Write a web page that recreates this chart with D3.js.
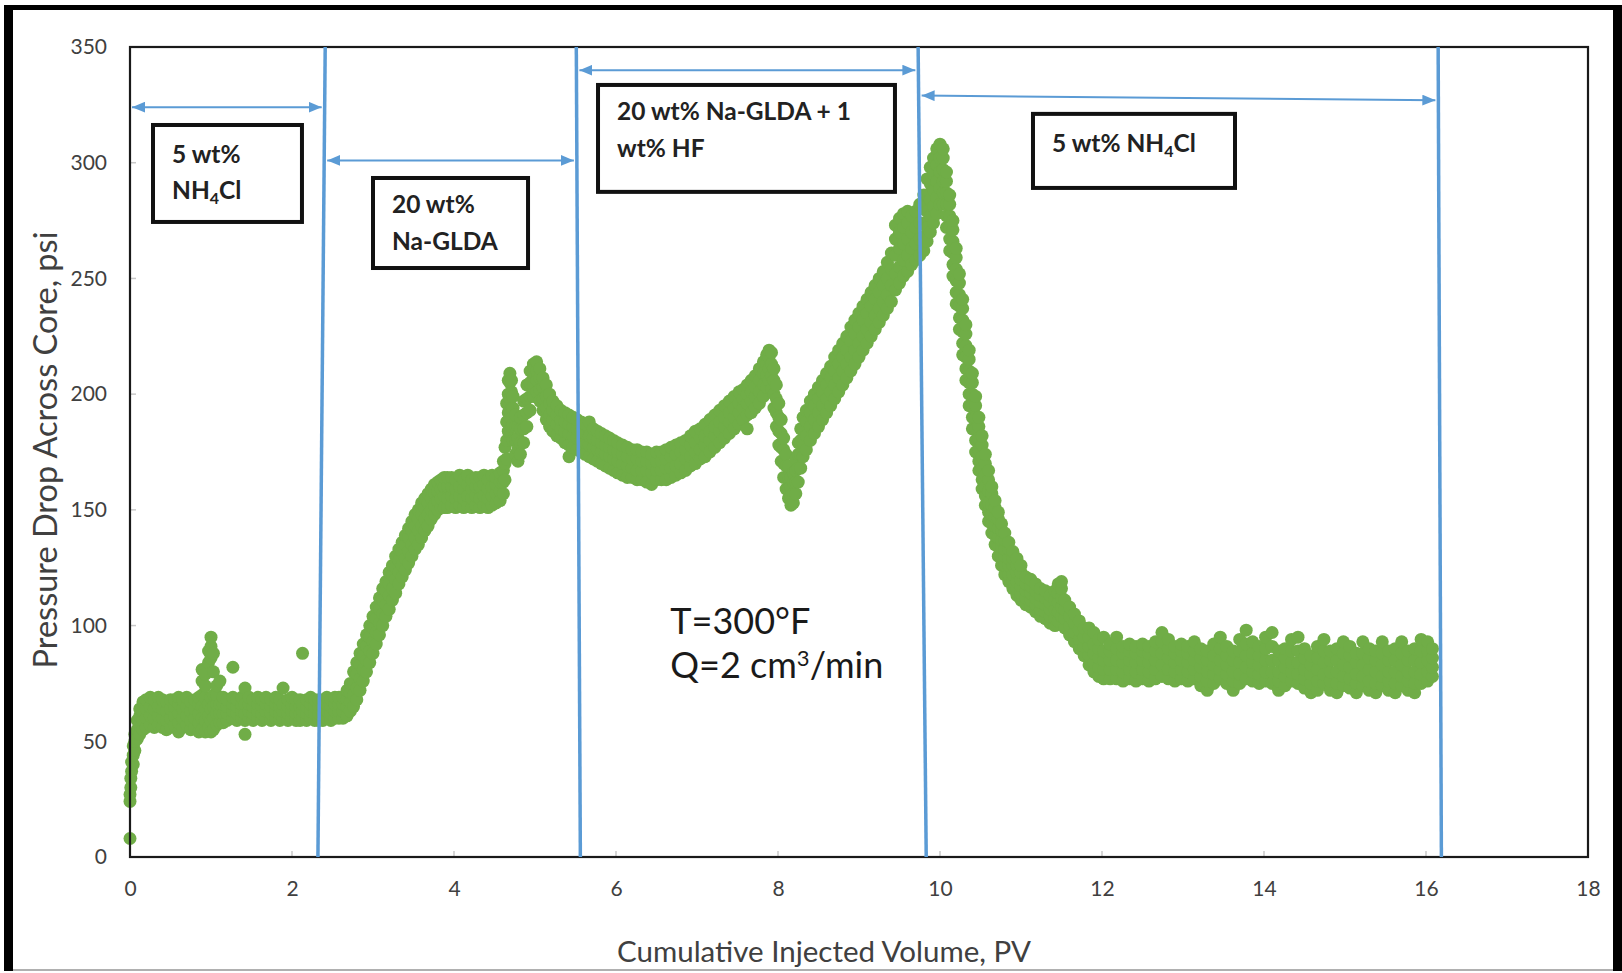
<!DOCTYPE html>
<html>
<head>
<meta charset="utf-8">
<script src="https://cdn.jsdelivr.net/npm/d3@7"></script>
<style>
  html, body { margin: 0; padding: 0; background: #fff; }
  svg { display: block; }
  text { font-family: Lato, "Open Sans", sans-serif; }
</style>
</head>
<body>
<svg id="chart" width="1622" height="973"></svg>
<script>
// ---- Axis ticks ----
const xTicks = [0, 2, 4, 6, 8, 10, 12, 14, 16, 18];
const yTicks = [0, 50, 100, 150, 200, 250, 300, 350];

// ---- Pressure drop readings, one row per injected volume: [PV, psi, psi, ...] ----
const stage1NH4Cl = [
  [0.00, 8, 24, 27], [0.01, 30, 34], [0.02, 37, 41], [0.04, 40, 44, 48], [0.06, 46, 50, 53],
  [0.09, 51, 55, 59], [0.12, 53, 57, 61, 64], [0.16, 55, 59, 63, 67], [0.20, 56, 60, 64, 68],
  [0.25, 57, 61, 65, 69], [0.30, 56, 60, 64, 68], [0.35, 57, 61, 65, 69], [0.40, 56, 60, 64, 68],
  [0.45, 55, 59, 63, 67], [0.50, 56, 60, 64, 68], [0.55, 57, 61, 65, 68], [0.60, 54, 58, 62, 66, 69],
  [0.65, 56, 60, 64, 68], [0.70, 57, 61, 65, 69], [0.75, 55, 59, 63, 67], [0.80, 56, 60, 64, 68],
  [0.85, 54, 58, 62, 66, 69], [0.89, 55, 60, 65, 70, 76, 81], [0.93, 54, 59, 64, 69, 74, 79],
  [0.97, 56, 61, 66, 84, 89], [1.00, 54, 59, 64, 69, 86, 91, 95], [1.03, 55, 60, 65, 70, 80, 88],
  [1.07, 57, 62, 66, 70, 74], [1.11, 58, 62, 66, 76], [1.15, 58, 62, 66, 69], [1.20, 59, 62, 65, 68],
  [1.27, 60, 63, 66, 69, 82], [1.32, 59, 62, 65, 68], [1.38, 60, 63, 66, 69], [1.42, 53, 59, 62, 66, 73],
  [1.47, 60, 63, 66, 69], [1.52, 59, 62, 65, 68], [1.58, 60, 63, 66, 69], [1.63, 59, 62, 65, 68],
  [1.68, 60, 63, 66, 69], [1.74, 59, 62, 65, 68], [1.80, 60, 63, 66, 69], [1.85, 59, 62, 65, 68],
  [1.89, 60, 63, 66, 73], [1.95, 59, 62, 65, 68], [2.00, 60, 63, 66, 69], [2.05, 59, 62, 65, 68],
  [2.10, 59, 62, 65, 68], [2.13, 60, 63, 66, 88], [2.18, 59, 62, 65, 68], [2.23, 60, 63, 66, 69],
  [2.28, 59, 62, 65, 68], [2.33, 59, 62, 65, 68]
];

const stage2GLDA = [
  [2.38, 59, 62, 65, 68], [2.43, 60, 63, 66, 69], [2.48, 59, 62, 65, 68], [2.53, 60, 63, 66, 69],
  [2.58, 60, 63, 66, 69], [2.63, 60, 63, 66, 69], [2.68, 61, 65, 68, 72], [2.72, 63, 67, 71, 75],
  [2.76, 65, 70, 75, 80], [2.80, 68, 73, 79, 84], [2.84, 72, 77, 83, 88], [2.88, 76, 81, 87, 92],
  [2.92, 80, 85, 91, 96], [2.96, 84, 89, 95, 100], [3.00, 88, 93, 99, 104], [3.04, 92, 97, 103, 108],
  [3.08, 96, 101, 107, 112], [3.12, 100, 105, 111, 116], [3.16, 104, 109, 115, 119], [3.20, 107, 113, 118, 123],
  [3.24, 111, 116, 122, 126], [3.28, 114, 120, 125, 130], [3.32, 118, 123, 128, 133], [3.36, 121, 126, 132, 136],
  [3.40, 124, 129, 135, 139], [3.44, 127, 132, 138, 142], [3.48, 130, 135, 141, 145], [3.52, 133, 138, 143, 148],
  [3.56, 135, 141, 146, 150], [3.60, 138, 143, 148, 153], [3.64, 141, 146, 151, 155], [3.68, 143, 148, 153, 157],
  [3.72, 146, 150, 155, 159], [3.76, 148, 152, 157, 161], [3.80, 150, 154, 158, 162], [3.84, 151, 155, 159, 163],
  [3.88, 151, 156, 160, 164], [3.92, 151, 155, 160, 164], [3.97, 152, 156, 160, 164], [4.02, 151, 155, 159, 163],
  [4.07, 152, 156, 160, 165], [4.12, 151, 155, 159, 163], [4.17, 152, 156, 161, 165], [4.22, 151, 155, 159, 163],
  [4.27, 152, 156, 160, 164], [4.32, 151, 155, 160, 164], [4.37, 152, 156, 161, 165], [4.42, 151, 155, 159, 163],
  [4.47, 152, 156, 160, 165], [4.52, 153, 157, 161, 164], [4.57, 154, 158, 162, 166], [4.61, 157, 162, 167, 171],
  [4.63, 163, 170, 177], [4.65, 172, 180, 188, 196], [4.67, 184, 192, 200, 206], [4.69, 190, 198, 205, 209],
  [4.71, 186, 194, 201, 206], [4.73, 180, 187, 194, 199], [4.76, 174, 180, 186, 191], [4.79, 171, 176, 181, 186],
  [4.82, 174, 179, 185, 190], [4.86, 179, 185, 191, 197], [4.90, 186, 192, 198, 204], [4.94, 193, 199, 205, 210],
  [4.98, 199, 204, 209, 213], [5.02, 201, 206, 210, 214], [5.06, 197, 202, 207, 211], [5.10, 193, 198, 203, 207],
  [5.14, 189, 194, 199, 204], [5.18, 186, 191, 196, 200], [5.22, 184, 189, 193, 197], [5.27, 182, 187, 191, 195],
  [5.32, 181, 185, 189, 193], [5.37, 179, 184, 188, 192], [5.42, 173, 178, 183, 187, 191], [5.47, 177, 182, 186, 190],
  [5.52, 176, 181, 185, 189]
];

const stage3GLDAHF = [
  [5.57, 175, 180, 184, 188], [5.62, 174, 179, 183, 187], [5.67, 173, 178, 182, 188], [5.72, 172, 177, 181, 185],
  [5.77, 171, 176, 180, 184], [5.82, 170, 175, 179, 183], [5.87, 169, 174, 178, 182], [5.92, 168, 173, 177, 181],
  [5.97, 167, 172, 176, 180], [6.02, 166, 171, 175, 179], [6.08, 165, 170, 174, 178], [6.14, 164, 169, 173, 177],
  [6.20, 164, 168, 172, 176], [6.26, 163, 167, 172, 176], [6.32, 163, 167, 171, 175], [6.38, 162, 167, 171, 175],
  [6.44, 161, 166, 170, 174], [6.50, 163, 167, 171, 175], [6.56, 163, 167, 171, 175], [6.62, 163, 168, 172, 176],
  [6.68, 164, 168, 173, 177], [6.74, 165, 169, 174, 178], [6.80, 166, 170, 175, 179], [6.86, 167, 172, 176, 180],
  [6.92, 169, 173, 178, 182], [6.98, 170, 175, 179, 184], [7.04, 172, 176, 181, 185], [7.10, 173, 178, 182, 187],
  [7.16, 175, 180, 184, 189], [7.22, 177, 182, 186, 191], [7.28, 179, 184, 188, 193], [7.34, 181, 186, 190, 195],
  [7.40, 183, 188, 192, 197], [7.46, 185, 190, 194, 199], [7.52, 187, 192, 196, 201], [7.57, 189, 194, 198, 202],
  [7.62, 185, 191, 196, 200, 204], [7.67, 192, 197, 201, 206], [7.72, 194, 199, 203, 208], [7.77, 196, 201, 206, 211],
  [7.82, 199, 204, 209, 214], [7.86, 203, 208, 213, 217], [7.89, 206, 211, 216, 219], [7.92, 202, 208, 213, 218],
  [7.95, 194, 200, 206, 211], [7.98, 186, 192, 198, 204], [8.01, 178, 184, 190, 196], [8.04, 171, 177, 183, 189],
  [8.07, 164, 170, 176, 181], [8.10, 159, 164, 169, 174], [8.13, 155, 159, 164, 169], [8.16, 152, 156, 160, 164],
  [8.19, 153, 157, 162, 166], [8.22, 157, 162, 167, 172], [8.25, 162, 168, 174, 179], [8.28, 168, 174, 180, 185],
  [8.31, 173, 179, 185, 190], [8.35, 176, 182, 188, 193], [8.40, 180, 186, 192, 197], [8.45, 183, 189, 195, 200],
  [8.50, 186, 192, 198, 203], [8.55, 189, 195, 201, 206], [8.60, 192, 198, 204, 209], [8.65, 195, 201, 207, 212],
  [8.70, 198, 204, 210, 216], [8.75, 201, 207, 213, 219], [8.80, 204, 210, 216, 222], [8.85, 207, 213, 219, 225],
  [8.90, 210, 216, 223, 229], [8.95, 213, 219, 226, 232], [9.00, 216, 222, 229, 235], [9.05, 219, 225, 232, 238],
  [9.10, 222, 228, 235, 241], [9.15, 225, 231, 238, 244], [9.20, 228, 234, 241, 247], [9.25, 231, 237, 244, 250],
  [9.30, 234, 240, 247, 253], [9.35, 237, 243, 250, 257], [9.40, 240, 247, 254, 261], [9.45, 245, 252, 260, 267, 273],
  [9.50, 248, 255, 263, 270, 276], [9.55, 251, 258, 265, 272, 278], [9.60, 253, 260, 267, 274, 279],
  [9.65, 256, 263, 270, 277], [9.70, 258, 265, 272, 279], [9.75, 260, 267, 274, 282]
];

const stage4NH4Cl = [
  [9.80, 262, 268, 274, 280, 286], [9.84, 266, 272, 279, 286, 293], [9.88, 270, 277, 284, 291, 298],
  [9.92, 274, 281, 288, 295, 302], [9.96, 278, 285, 292, 299, 306], [10.00, 282, 289, 296, 302, 308],
  [10.04, 282, 287, 292, 297, 302, 306], [10.08, 272, 277, 282, 287, 292, 296], [10.12, 262, 267, 272, 277, 282, 286],
  [10.16, 251, 256, 261, 266, 271, 275], [10.20, 239, 244, 249, 254, 259, 263], [10.24, 228, 233, 238, 243, 248, 252],
  [10.28, 217, 222, 227, 232, 237, 241], [10.32, 206, 211, 216, 221, 226, 230], [10.36, 195, 200, 205, 210, 215, 219],
  [10.40, 185, 190, 195, 200, 205, 209], [10.44, 175, 180, 185, 190, 195, 199], [10.48, 167, 171, 176, 181, 186, 190],
  [10.52, 159, 163, 168, 173, 178, 182], [10.56, 152, 156, 160, 165, 170, 174], [10.60, 145, 149, 153, 158, 163, 167],
  [10.64, 140, 144, 148, 152, 157, 160], [10.68, 135, 139, 143, 147, 151, 154], [10.72, 130, 134, 138, 142, 146, 149],
  [10.76, 126, 130, 134, 137, 141, 144], [10.80, 122, 126, 130, 133, 137, 140], [10.85, 119, 122, 126, 129, 133, 136],
  [10.90, 116, 119, 122, 126, 129, 132], [10.95, 113, 116, 119, 123, 126, 129], [11.00, 111, 114, 117, 120, 123, 126],
  [11.06, 109, 112, 115, 118, 121], [11.12, 108, 111, 114, 117, 120], [11.18, 106, 109, 112, 115, 118],
  [11.24, 104, 107, 110, 113, 116], [11.30, 103, 106, 109, 112, 115], [11.36, 101, 104, 107, 110, 113],
  [11.42, 100, 103, 107, 111, 115], [11.46, 102, 106, 110, 114, 118], [11.50, 104, 108, 112, 116, 119],
  [11.54, 99, 103, 107, 111], [11.60, 96, 100, 104, 108], [11.66, 93, 97, 101, 105], [11.72, 90, 94, 98, 102],
  [11.78, 87, 91, 95, 99], [11.84, 83, 87, 91, 95, 99], [11.90, 80, 84, 88, 92, 97], [11.96, 78, 82, 86, 90, 94],
  [12.02, 77, 81, 85, 89, 95], [12.10, 77, 81, 85, 89, 92], [12.18, 77, 81, 85, 90, 95], [12.26, 76, 80, 84, 88, 91],
  [12.34, 77, 81, 85, 89, 92], [12.42, 76, 80, 84, 88, 91], [12.50, 77, 81, 85, 89, 92], [12.58, 76, 80, 84, 88, 91],
  [12.66, 77, 81, 85, 89, 93], [12.74, 78, 83, 88, 93, 97], [12.82, 77, 81, 86, 90, 94], [12.90, 76, 80, 84, 88, 91],
  [12.98, 77, 81, 85, 89, 92], [13.06, 76, 80, 84, 88, 91], [13.14, 77, 81, 85, 89, 93], [13.22, 74, 78, 82, 86, 90],
  [13.30, 72, 76, 80, 85, 89], [13.38, 75, 79, 83, 87, 92], [13.46, 77, 81, 85, 90, 95], [13.54, 75, 79, 83, 87, 91],
  [13.62, 72, 76, 80, 85, 89], [13.70, 75, 79, 84, 89, 94], [13.78, 77, 82, 87, 92, 98], [13.86, 76, 80, 84, 88, 93],
  [13.94, 75, 79, 83, 87, 91], [14.02, 76, 80, 85, 90, 95], [14.10, 75, 80, 85, 91, 97], [14.18, 72, 76, 80, 85, 89],
  [14.26, 74, 78, 82, 86, 90], [14.34, 76, 80, 84, 89, 94], [14.42, 75, 79, 84, 89, 95], [14.50, 73, 77, 81, 86, 90],
  [14.58, 71, 75, 79, 83, 87], [14.66, 72, 76, 81, 86, 91], [14.74, 75, 79, 84, 89, 94], [14.82, 72, 76, 80, 85, 89],
  [14.90, 71, 75, 80, 85, 90], [14.98, 74, 78, 83, 88, 93], [15.06, 73, 77, 82, 87, 91], [15.14, 71, 75, 79, 84, 88],
  [15.22, 74, 78, 83, 88, 93], [15.30, 72, 76, 81, 86, 90], [15.38, 71, 75, 80, 85, 89], [15.46, 74, 78, 83, 88, 93],
  [15.54, 72, 76, 80, 85, 89], [15.62, 71, 75, 80, 85, 90], [15.70, 74, 78, 83, 88, 93], [15.78, 72, 76, 80, 85, 89],
  [15.86, 71, 75, 80, 85, 90], [15.94, 75, 79, 84, 89, 94], [16.02, 76, 80, 85, 89, 93], [16.08, 78, 82, 86, 90]
];

// ---- Injection stage boundaries (PV where each divider meets the top / bottom of the plot) ----
const boundaryTopPV = [2.41, 5.51, 9.73, 16.15];
const boundaryBottomPV = [2.32, 5.56, 9.83, 16.19];
// psi level of each stage's double arrow at its left and right end
const arrowLevelStart = [324, 301, 340, 329];
const arrowLevelEnd = [324, 301, 340, 327];

// ---- Stage names (lines of each box); sub-script digits marked with _ ----
const stageNames = [
  ["5 wt%", "NH_4Cl"],
  ["20 wt%", "Na-GLDA"],
  ["20 wt% Na-GLDA + 1", "wt% HF"],
  ["5 wt% NH_4Cl"]
];

// ---- Test conditions (super-script digits marked with ^) ----
const conditionLines = ["T=300°F", "Q=2 cm^3/min"];

// ---- Layout ----
const W = 1622, H = 973;
const plot = { left: 130, right: 1588, top: 47, bottom: 857 };
const dotColor = "#70AD47";
const blue = "#5B9BD5";
const textGrey = "#404040";

const svg = d3.select("#chart");

const x = d3.scaleLinear().domain([0, 18]).range([plot.left, plot.right]);
const y = d3.scaleLinear().domain([0, 350]).range([plot.bottom, plot.top]);

// outer picture frame
svg.append("rect").attr("x", 0).attr("y", 0).attr("width", W).attr("height", H).attr("fill", "#fff");
svg.append("rect").attr("x", 4).attr("y", 5).attr("width", 9).attr("height", 966).attr("fill", "#000");
svg.append("rect").attr("x", 4).attr("y", 5).attr("width", 1618).attr("height", 5).attr("fill", "#000");
svg.append("rect").attr("x", 1613).attr("y", 5).attr("width", 9).attr("height", 966).attr("fill", "#000");
svg.append("line").attr("x1", 13).attr("x2", 1613).attr("y1", 970).attr("y2", 970)
  .attr("stroke", "#b0b0b0").attr("stroke-width", 2);

// arrow markers
const defs = svg.append("defs");
["start", "end"].forEach(k => {
  defs.append("marker")
    .attr("id", "arrow-" + k)
    .attr("viewBox", "0 0 12 10")
    .attr("refX", k === "end" ? 12 : 0).attr("refY", 5)
    .attr("markerWidth", 13).attr("markerHeight", 11)
    .attr("markerUnits", "userSpaceOnUse")
    .attr("orient", "auto")
    .append("path")
    .attr("d", k === "end" ? "M0,0 L12,5 L0,10 Z" : "M12,0 L0,5 L12,10 Z")
    .attr("fill", blue);
});

// faint inner tick marks
const gTicks = svg.append("g").attr("stroke", "#c8c8c8").attr("stroke-width", 1.5);
yTicks.forEach(v => {
  gTicks.append("line").attr("x1", plot.left).attr("x2", plot.left + 6).attr("y1", y(v)).attr("y2", y(v));
});
xTicks.forEach(v => {
  gTicks.append("line").attr("x1", x(v)).attr("x2", x(v)).attr("y1", plot.bottom).attr("y2", plot.bottom - 6);
});

// scatter points
const points = [];
[stage1NH4Cl, stage2GLDA, stage3GLDAHF, stage4NH4Cl].forEach(stage => {
  stage.forEach(row => {
    row.slice(1).forEach(p => points.push([row[0], p]));
  });
});
svg.append("g")
  .selectAll("circle")
  .data(points)
  .join("circle")
  .attr("cx", d => x(d[0]))
  .attr("cy", d => y(d[1]))
  .attr("r", 6.5)
  .attr("fill", dotColor);

// plot frame
svg.append("rect")
  .attr("x", plot.left).attr("y", plot.top)
  .attr("width", plot.right - plot.left).attr("height", plot.bottom - plot.top)
  .attr("fill", "none").attr("stroke", "#1a1a1a").attr("stroke-width", 2.2);

// axes tick labels
const yAxis = d3.axisLeft(y).tickValues(yTicks).tickSize(0).tickPadding(23);
const gy = svg.append("g").attr("transform", `translate(${plot.left},0)`).call(yAxis);
gy.select(".domain").remove();
gy.selectAll("text").attr("font-size", 21).attr("fill", textGrey)
  .style("font-family", "Lato, 'Open Sans', sans-serif");

const xAxis = d3.axisBottom(x).tickValues(xTicks).tickSize(0).tickPadding(24);
const gx = svg.append("g").attr("transform", `translate(0,${plot.bottom})`).call(xAxis);
gx.select(".domain").remove();
gx.selectAll("text").attr("font-size", 21).attr("fill", textGrey)
  .style("font-family", "Lato, 'Open Sans', sans-serif");

// axis titles
svg.append("text")
  .attr("x", 824).attr("y", 962)
  .attr("text-anchor", "middle")
  .attr("font-size", 29.5).attr("fill", textGrey)
  .text("Cumulative Injected Volume, PV");

svg.append("text")
  .attr("transform", "translate(57,450) rotate(-90)")
  .attr("text-anchor", "middle")
  .attr("font-size", 32.5).attr("fill", textGrey)
  .text("Pressure Drop Across Core, psi");

// stage dividers
const dividerX = (i, psi) => {
  const t = psi / 350; // 0 at bottom, 1 at top
  return boundaryBottomPV[i] + (boundaryTopPV[i] - boundaryBottomPV[i]) * t;
};
boundaryTopPV.forEach((v, i) => {
  svg.append("line")
    .attr("x1", x(boundaryTopPV[i])).attr("y1", y(350))
    .attr("x2", x(boundaryBottomPV[i])).attr("y2", y(0))
    .attr("stroke", blue).attr("stroke-width", 3.5);
});

// stage double arrows
arrowLevelStart.forEach((lv, i) => {
  const x0 = i === 0 ? 0 : dividerX(i - 1, lv);
  const x1 = dividerX(i, arrowLevelEnd[i]);
  svg.append("line")
    .attr("x1", x(x0) + (i === 0 ? 2 : 3)).attr("y1", y(lv))
    .attr("x2", x(x1) - 3).attr("y2", y(arrowLevelEnd[i]))
    .attr("stroke", blue).attr("stroke-width", 2)
    .attr("marker-start", "url(#arrow-start)")
    .attr("marker-end", "url(#arrow-end)");
});

// stage label boxes: corners in PV / psi
const boxLayout = [
  { x0: 0.284, y0: 316.3, x1: 2.123, y1: 274.4, lead: 38, gap: 36 },
  { x0: 3.0, y0: 293.4, x1: 4.914, y1: 254.5, lead: 35, gap: 37 },
  { x0: 5.778, y0: 333.6, x1: 9.444, y1: 287.4, lead: 35, gap: 37 },
  { x0: 11.148, y0: 321.1, x1: 13.642, y1: 289.1, lead: 38, gap: 37 }
];
stageNames.forEach((lines, i) => {
  const b = boxLayout[i];
  const bx = x(b.x0), by = y(b.y0), bw = x(b.x1) - x(b.x0), bh = y(b.y1) - y(b.y0);
  svg.append("rect")
    .attr("x", bx).attr("y", by).attr("width", bw).attr("height", bh)
    .attr("fill", "#fff").attr("stroke", "#111").attr("stroke-width", 4);
  const t = svg.append("text")
    .attr("font-size", 24.5).attr("font-weight", 700).attr("fill", "#222");
  lines.forEach((ln, j) => {
    const parts = ln.split(/_(\d)/);
    let first = true;
    let shifted = 0;
    parts.forEach((p, k) => {
      if (!p.length) return;
      const ts = t.append("tspan").text(p);
      if (first) {
        ts.attr("x", bx + 19).attr("y", by + b.lead + j * b.gap);
        first = false;
      }
      if (k % 2 === 1) {
        ts.attr("font-size", 16).attr("dy", 5);
        shifted = 5;
      } else if (shifted) {
        ts.attr("dy", -shifted);
        shifted = 0;
      }
    });
  });
});

// test conditions, one text line each
const condBaselines = [634, 678];
conditionLines.forEach((ln, j) => {
  const t = svg.append("text").attr("fill", "#1a1a1a").attr("font-size", 36)
    .attr("x", x(6.67)).attr("y", condBaselines[j]);
  const parts = ln.split(/\^(\d)/);
  parts.forEach((p, k) => {
    if (!p.length) return;
    const ts = t.append("tspan").text(p);
    if (k % 2 === 1) ts.attr("font-size", 22).attr("dy", -12);
    else if (k > 0) ts.attr("dy", 12);
  });
});
</script>
</body>
</html>
